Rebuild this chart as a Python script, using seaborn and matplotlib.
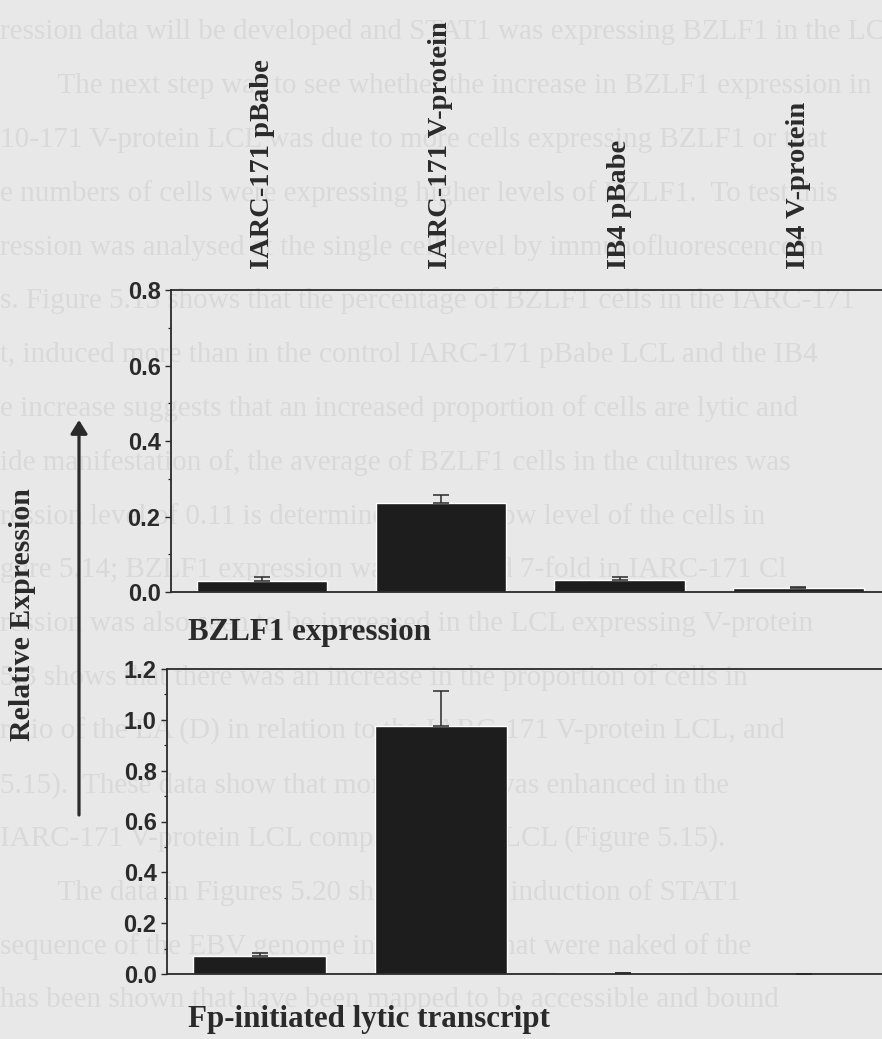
import numpy as np
import matplotlib
matplotlib.use("Agg")
import matplotlib.pyplot as plt
import seaborn as sns

# ---- data ---------------------------------------------------------------
categories = ["IARC-171 pBabe", "IARC-171 V-protein", "IB4 pBabe", "IB4 V-protein"]

bzlf1_mean = [0.029, 0.235, 0.032, 0.011]
bzlf1_err = [0.011, 0.022, 0.008, 0.002]

fp_mean = [0.071, 0.976, 0.004, 0.001]
fp_err = [0.012, 0.137, 0.0, 0.0]

panel_titles = ["BZLF1 expression", "Fp-initiated lytic transcript"]
y_label = "Relative Expression"
top_ticks = [0.0, 0.2, 0.4, 0.6, 0.8]
bottom_ticks = [0.0, 0.2, 0.4, 0.6, 0.8, 1.0, 1.2]

# thesis body text running behind the figure
page_lines = [
    "ression data will be developed and STAT1 was expressing BZLF1 in the LCL",
    "        The next step was to see whether the increase in BZLF1 expression in",
    "10-171 V-protein LCL was due to more cells expressing BZLF1 or that",
    "e numbers of cells were expressing higher levels of BZLF1.  To test this",
    "ression was analysed at the single cell level by immunofluorescence in",
    "s. Figure 5.13 shows that the percentage of BZLF1 cells in the IARC-171",
    "t, induced more than in the control IARC-171 pBabe LCL and the IB4",
    "e increase suggests that an increased proportion of cells are lytic and",
    "ide manifestation of, the average of BZLF1 cells in the cultures was",
    "ression level of 0.11 is determined by this low level of the cells in",
    "gure 5.14; BZLF1 expression was increased 7-fold in IARC-171 Cl",
    "ression was also seen to be increased in the LCL expressing V-protein",
    "5.3 shows that there was an increase in the proportion of cells in",
    "ratio of the LA (D) in relation to the IARC-171 V-protein LCL, and",
    "5.15).  These data show that more BZLF1 was enhanced in the",
    "IARC-171 V-protein LCL compared to the LCL (Figure 5.15).",
    "        The data in Figures 5.20 show that the induction of STAT1",
    "sequence of the EBV genome in plasmids that were naked of the",
    "has been shown that have been mapped to be accessible and bound",
]

# ---- style --------------------------------------------------------------
sns.set_theme(style="white")
PAGE = "#e8e8e8"
INK = "#2a2a2a"
BAR = "#1d1d1d"
GHOST = "#d9d9d9"
SERIF = ["Liberation Serif", "DejaVu Serif"]
SANS = ["Liberation Sans", "DejaVu Sans"]
plt.rcParams["font.family"] = SANS

W, H = 882, 1039
fig = plt.figure(figsize=(W / 100, H / 100), dpi=100, facecolor=PAGE)

# faint page text behind the plot
for k, line in enumerate(page_lines):
    fig.text(0.0, 1 - (32 + 53.8 * k) / H, line, ha="left", va="center",
             fontsize=21, family=SERIF, color=GHOST, zorder=-5)


def px_axes(left, top, right, bottom):
    return fig.add_axes([left / W, 1 - bottom / H, (right - left) / W, (bottom - top) / H])


def bar_panel(ax, means, errs, ymax, ticks):
    sns.barplot(x=categories, y=means, color=BAR, saturation=1, width=0.73,
                errorbar=None, ax=ax, zorder=2)
    x = np.arange(len(categories))
    lower = np.zeros(len(categories))
    ax.errorbar(x, means, yerr=[lower, errs], fmt="none", ecolor=INK,
                elinewidth=1.1, capsize=5.5, capthick=1.1, zorder=3)
    ax.set_facecolor("none")
    ax.set_xlim(-0.51, 3.49)
    ax.set_ylim(0, ymax)
    ax.set_xticks([])
    ax.set_xlabel("")
    ax.set_ylabel("")
    ax.set_yticks(ticks)
    ax.set_yticklabels([f"{t:.1f}" for t in ticks], fontsize=17,
                       fontweight="bold", family=SANS, color=INK)
    ax.set_yticks(np.arange(0.1, ymax, 0.2), minor=True)
    ax.tick_params(axis="y", which="major", direction="out", length=4.5,
                   width=1.0, color=INK, pad=3, left=True)
    ax.tick_params(axis="y", which="minor", direction="out", length=2.5,
                   width=0.9, color=INK, left=True)
    for side in ("left", "top", "bottom"):
        ax.spines[side].set_visible(True)
        ax.spines[side].set_color(INK)
        ax.spines[side].set_linewidth(1.3)
    ax.spines["right"].set_visible(False)


ax_top = px_axes(171, 290, 886, 592)
bar_panel(ax_top, bzlf1_mean, bzlf1_err, 0.8, top_ticks)

ax_bot = px_axes(167, 669, 893, 974)
bar_panel(ax_bot, fp_mean, fp_err, 1.2, bottom_ticks)

# category labels above the upper panel
for i, name in enumerate(categories):
    ax_top.annotate(name, xy=(i, 1.0), xycoords=("data", "axes fraction"),
                    xytext=(0, 15), textcoords="offset points", rotation=90,
                    ha="center", va="bottom", fontsize=20.5, fontweight="bold",
                    family=SERIF, color=INK)

# panel captions
fig.text(188 / W, 1 - 640 / H, panel_titles[0], ha="left", va="baseline",
         fontsize=22.3, fontweight="bold", family=SERIF, color=INK)
fig.text(188 / W, 1 - 1027 / H, panel_titles[1], ha="left", va="baseline",
         fontsize=22.3, fontweight="bold", family=SERIF, color=INK)

# shared y label with upward arrow
fig.text(23 / W, 1 - 615 / H, y_label, rotation=90, ha="center", va="center",
         fontsize=21.5, fontweight="bold", family=SERIF, color=INK)
fig.add_artist(matplotlib.patches.FancyArrowPatch(
    (79 / W, 1 - 815 / H), (79 / W, 1 - 420 / H), transform=fig.transFigure,
    arrowstyle="-|>,head_length=0.45,head_width=0.28", mutation_scale=18,
    lw=2.3, color=INK, shrinkA=0, shrinkB=0))

fig.savefig("out.png", dpi=100, facecolor=PAGE)
